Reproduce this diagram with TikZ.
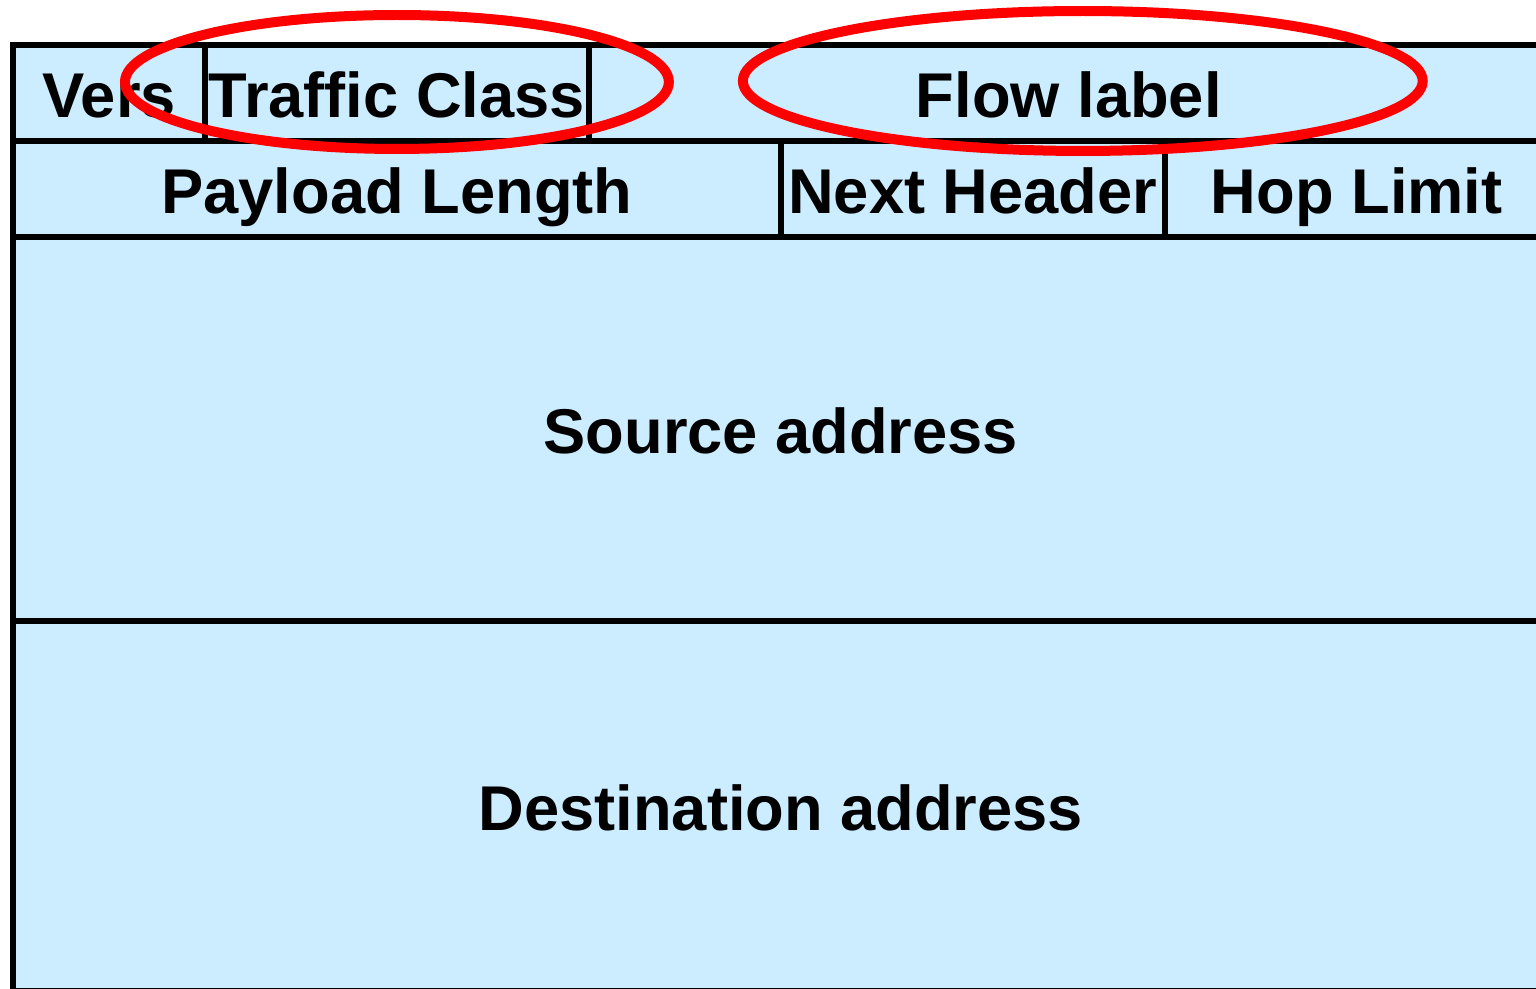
\documentclass[tikz,border=0pt]{standalone}
\usepackage{fontspec}
\setmainfont{Liberation Sans}
\usepackage{xcolor}
\usetikzlibrary{positioning}
\definecolor{fieldblue}{RGB}{204,236,255}

\begin{document}
\begin{tikzpicture}[
    x=0.02cm, y=-0.02cm,
    field/.style={rectangle, draw=black, line width=0.12cm, fill=fieldblue, outer sep=0pt, inner sep=0pt, minimum height=1.92cm, minimum width=#1*0.96cm, text height=1.2cm, text depth=0.2cm, font=\fontsize{36}{40}\selectfont\bfseries},
    field/.default=8,
    ring/.style={draw=red, line width=0.2cm}
]
    \useasboundingbox (0,0) rectangle (1536,989);
    \clip (0,0) rectangle (1536,989);

    % Row 1: version, traffic class, flow label
    \node[field=4, anchor=north west] (vers)     at (13,45) {Vers};
    \node[field=8,  right=0pt of vers]   (tclass)   {Traffic Class};
    \node[field=20, right=0pt of tclass] (flow)     {Flow label};

    % Row 2: payload length, next header, hop limit
    \node[field=16, below right=0pt and 0pt of vers.south west] (payload)  {Payload Length};
    \node[field=8,  right=0pt of payload] (nexthdr)  {Next Header};
    \node[field=8,  right=0pt of nexthdr] (hoplimit) {Hop Limit};

    % Addresses
    \node[field=32, minimum height=7.68cm, below right=0pt and 0pt of payload.south west] (src) {Source address};
    \node[field=32, minimum height=7.4cm,  below right=0pt and 0pt of src.south west]     (dst) {Destination address};

    % Highlight rings
    \draw[ring] ([yshift=0.22cm]tclass.center) ellipse [x radius=5.44cm, y radius=1.34cm];
    \draw[ring] ([xshift=0.28cm, yshift=0.24cm]flow.center) ellipse [x radius=6.8cm, y radius=1.4cm];

\end{tikzpicture}
\end{document}
